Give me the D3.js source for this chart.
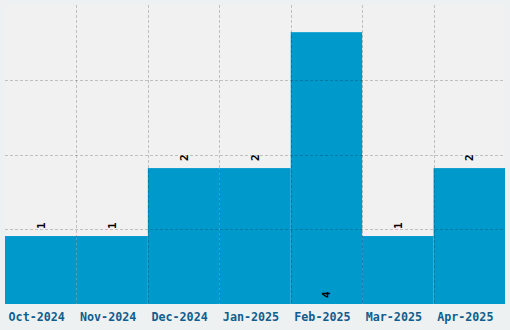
<!DOCTYPE html>
<html><head><meta charset="utf-8">
<script src="https://cdn.jsdelivr.net/npm/d3@7"></script>
<style>
html,body{margin:0;padding:0;background:#eef1f2;}
svg{display:block;}
</style></head>
<body>
<script>
const categories = ["Oct-2024","Nov-2024","Dec-2024","Jan-2025","Feb-2025","Mar-2025","Apr-2025"];
const values = [1,1,2,2,4,1,2];
const yMax = 4.4;
const gridTicks = [1.1, 2.2, 3.3];

const W = 510, H = 330;
const m = {left:5, right:5, top:5, bottom:26};
const svg = d3.select("body").append("svg").attr("width", W).attr("height", H);

const x = d3.scaleBand().domain(categories).range([m.left, W - m.right]).padding(0);
const y = d3.scaleLinear().domain([0, yMax]).range([H - m.bottom, m.top]);

svg.append("rect").attr("x", m.left).attr("y", m.top)
  .attr("width", W - m.left - m.right).attr("height", H - m.top - m.bottom)
  .attr("fill", "#f1f1f1");

svg.append("g").selectAll("rect").data(values).join("rect")
  .attr("x", (d,i) => x(categories[i]))
  .attr("width", x.bandwidth())
  .attr("y", d => y(d))
  .attr("height", d => y(0) - y(d))
  .attr("fill", "#0099cc");

const grid = svg.append("g").attr("stroke", "rgba(0,0,0,0.2)").attr("stroke-dasharray", "3,2").attr("stroke-width", 1);
grid.selectAll("line.h").data(gridTicks).join("line").attr("class","h")
  .attr("x1", m.left).attr("x2", W - m.right)
  .attr("y1", d => Math.round(y(d)) + 0.5).attr("y2", d => Math.round(y(d)) + 0.5);
grid.selectAll("line.v").data(categories.slice(1)).join("line").attr("class","v")
  .attr("x1", d => Math.round(x(d)) + 0.5).attr("x2", d => Math.round(x(d)) + 0.5)
  .attr("y1", m.top).attr("y2", H - m.bottom);

const maxV = d3.max(values);
svg.append("g").selectAll("text").data(values).join("text")
  .attr("transform", (d,i) => {
    const cx = x(categories[i]) + x.bandwidth()/2 + 4;
    const cy = d === maxV ? y(0) - 6 : y(d) - 7;
    return `translate(${cx},${cy}) rotate(-90)`;
  })
  .attr("text-anchor", "start")
  .attr("font-family", "DejaVu Sans Mono, monospace")
  .attr("font-weight", "bold")
  .attr("font-size", "11px")
  .attr("fill", "#000")
  .text(d => d);

const xAxis = svg.append("g").attr("transform", `translate(0,${H - m.bottom})`)
  .call(d3.axisBottom(x).tickSize(0).tickPadding(9));
xAxis.select(".domain").remove();
xAxis.selectAll("text")
  .attr("dx", "-4")
  .attr("font-family", "DejaVu Sans Mono, monospace")
  .attr("font-weight", "bold")
  .attr("font-size", "11.7px")
  .attr("fill", "#0f5e8e");
</script>
</body></html>
